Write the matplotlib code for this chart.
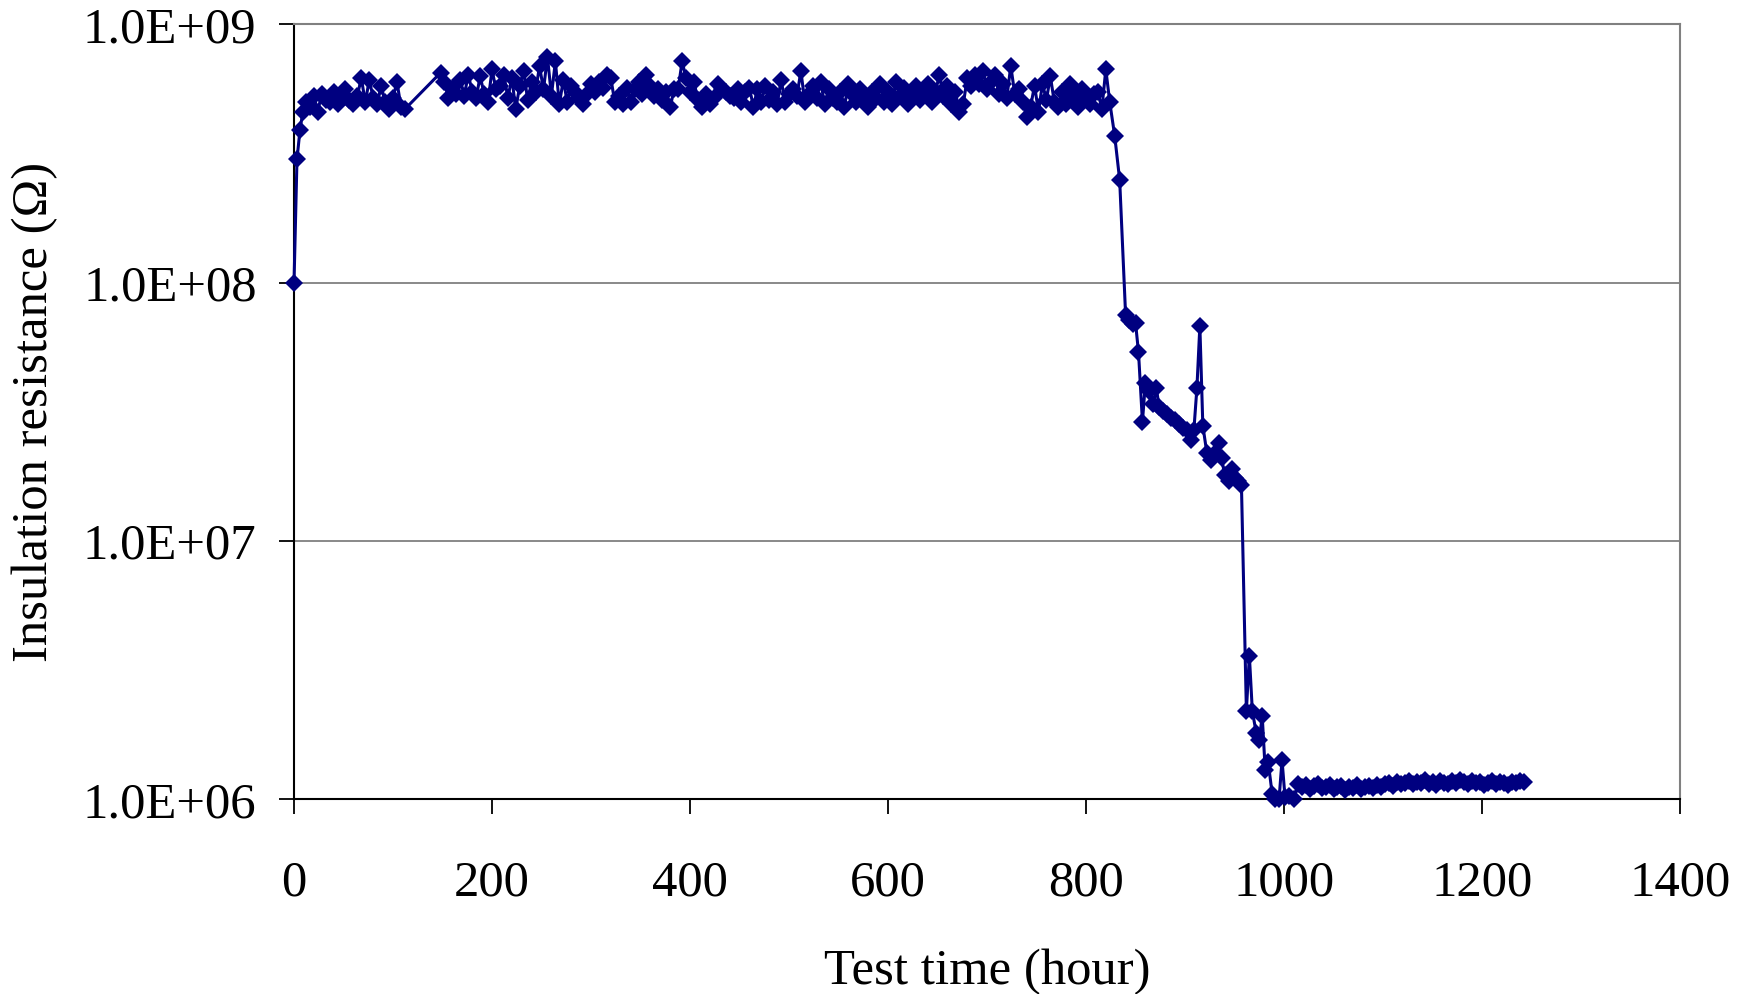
import matplotlib.pyplot as plt
from matplotlib.ticker import FixedLocator, FuncFormatter, NullLocator

plt.rcParams['font.family'] = ['Liberation Serif', 'DejaVu Serif']

# test time (hour)
hours_start = [0, 3, 6, 9, 12, 16, 20, 24, 28, 32, 36, 40, 44, 48, 52, 56, 60, 64,
               68, 72, 76, 80, 84, 88, 92, 96, 100, 104, 108, 112]
hours_plateau = [148, 152, 156, 160, 164, 168, 172, 176, 180, 184,
                 188, 192, 196, 200, 204, 208, 212, 216, 220, 224,
                 228, 232, 236, 240, 244, 248, 252, 256, 260, 264,
                 268, 272, 276, 280, 284, 288, 292, 296, 300, 304,
                 308, 312, 316, 320, 324, 328, 332, 336, 340, 344,
                 348, 352, 356, 360, 364, 368, 372, 376, 380, 384,
                 388, 392, 396, 400, 404, 408, 412, 416, 420, 424,
                 428, 432, 436, 440, 444, 448, 452, 456, 460, 464,
                 468, 472, 476, 480, 484, 488, 492, 496, 500, 504,
                 508, 512, 516, 520, 524, 528, 532, 536, 540, 544,
                 548, 552, 556, 560, 564, 568, 572, 576, 580, 584,
                 588, 592, 596, 600, 604, 608, 612, 616, 620, 624,
                 628, 632, 636, 640, 644, 648, 652, 656, 660, 664,
                 668, 672, 676, 680, 684, 688, 692, 696, 700, 704,
                 708, 712, 716, 720, 724, 728, 732, 736, 740, 744,
                 748, 752, 756, 760, 764, 768, 772, 776, 780, 784,
                 788, 792, 796, 800, 804, 808, 812, 816, 820, 824]
hours_drop = [829, 834, 840, 843, 847, 850, 853, 857, 860, 864, 868, 871, 874,
              878, 882, 886, 890, 894, 898, 902, 906, 909, 912, 915, 918, 922,
              926, 930, 934, 937, 940, 944, 947, 950, 954, 957, 962, 965, 968,
              972, 975, 978, 981, 984, 988, 991, 995, 998, 1001, 1005, 1010]
hours_tail = [1014, 1018, 1022, 1026, 1030, 1034, 1038, 1042, 1046, 1050,
              1054, 1058, 1062, 1066, 1070, 1074, 1078, 1082, 1086, 1090,
              1094, 1098, 1102, 1106, 1110, 1114, 1118, 1122, 1126, 1130,
              1134, 1138, 1142, 1146, 1150, 1154, 1158, 1162, 1166, 1170,
              1174, 1178, 1182, 1186, 1190, 1194, 1198, 1202, 1206, 1210,
              1214, 1218, 1222, 1226, 1230, 1234, 1238, 1242]

# insulation resistance (MOhm)
res_start = [100, 300, 390, 460, 500, 480, 530, 460, 540, 510, 500, 550, 490, 530,
             560, 510, 490, 530, 620, 500, 610, 520, 490, 580, 500, 470, 520, 600,
             480, 470]
res_plateau = [650, 600, 520, 560, 540, 610, 530, 640, 550, 520,
               630, 540, 500, 670, 560, 580, 640, 520, 620, 470,
               580, 660, 510, 600, 550, 690, 560, 750, 530, 720,
               490, 610, 500, 580, 550, 520, 490, 540, 590, 550,
               600, 570, 640, 620, 500, 530, 490, 570, 500, 560,
               600, 540, 640, 580, 530, 560, 510, 550, 480, 560,
               560, 720, 620, 550, 600, 510, 480, 540, 490, 520,
               590, 560, 550, 530, 520, 560, 500, 550, 570, 480,
               560, 500, 580, 510, 550, 490, 610, 500, 540, 560,
               530, 660, 500, 540, 580, 520, 600, 490, 560, 520,
               500, 550, 480, 590, 540, 500, 560, 520, 480, 550,
               520, 590, 500, 550, 490, 600, 530, 570, 490, 550,
               580, 510, 540, 590, 500, 550, 640, 530, 580, 490,
               550, 460, 490, 620, 580, 640, 590, 660, 560, 600,
               640, 540, 590, 520, 690, 540, 560, 500, 440, 480,
               580, 460, 590, 510, 630, 500, 480, 550, 490, 590,
               530, 480, 560, 520, 490, 540, 550, 470, 670, 500]
res_drop = [370, 250, 75, 72, 69, 70, 54, 29, 41, 38, 34, 39, 33,
            32, 31, 30, 29.5, 28.5, 27.5, 27, 24.5, 27, 39, 68, 28, 22,
            20.5, 22, 24, 21, 18, 17, 19, 17.5, 17, 16.5, 2.2, 3.6, 2.2,
            1.8, 1.7, 2.1, 1.3, 1.4, 1.05, 1.0, 1.0, 1.42, 1.02, 1.03, 1.0]
res_tail = [1.15, 1.12, 1.14, 1.10, 1.13, 1.15, 1.11, 1.12, 1.14, 1.10,
            1.12, 1.13, 1.09, 1.12, 1.11, 1.14, 1.10, 1.12, 1.13, 1.11,
            1.14, 1.12, 1.15, 1.16, 1.13, 1.17, 1.15, 1.16, 1.18, 1.15,
            1.17, 1.16, 1.19, 1.15, 1.17, 1.14, 1.18, 1.16, 1.15, 1.18,
            1.16, 1.19, 1.17, 1.15, 1.18, 1.16, 1.17, 1.14, 1.16, 1.18,
            1.15, 1.17, 1.16, 1.14, 1.17, 1.16, 1.18, 1.17]

hours = hours_start + hours_plateau + hours_drop + hours_tail
resistance = [r * 1e6 for r in res_start + res_plateau + res_drop + res_tail]

y_ticks = [1e6, 1e7, 1e8, 1e9]
x_ticks = [0, 200, 400, 600, 800, 1000, 1200, 1400]

fig = plt.figure(figsize=(17.48, 9.94), dpi=100)
ax = fig.add_axes([0.1682, 0.1959, 0.7929, 0.7795])

ax.plot(hours, resistance, color='#000080', linewidth=2.2, marker='D',
        markersize=9, markeredgewidth=0, zorder=3, clip_on=False)

ax.set_yscale('log')
ax.set_xlim(0, 1400)
ax.set_ylim(1e6, 1e9)
ax.yaxis.set_major_locator(FixedLocator(y_ticks))
ax.yaxis.set_minor_locator(NullLocator())
ax.yaxis.set_major_formatter(FuncFormatter(lambda v, pos: f"{v:.1E}"))
ax.set_xticks(x_ticks)

ax.grid(axis='y', color='#808080', linewidth=1.3)
ax.set_axisbelow(True)
for side in ('top', 'right'):
    ax.spines[side].set_color('#808080')
    ax.spines[side].set_linewidth(1.5)
for side in ('left', 'bottom'):
    ax.spines[side].set_color('black')
    ax.spines[side].set_linewidth(1.5)

ax.tick_params(axis='both', direction='out', length=11, width=1.3,
               labelsize=36.5, colors='black')
ax.tick_params(axis='y', pad=16)
ax.tick_params(axis='x', pad=33)

ax.set_xlabel("Test time (hour)", fontsize=36.5, labelpad=30)
ax.set_ylabel("Insulation resistance (\u03a9)", fontsize=36.5, labelpad=18)

fig.savefig('out.png', dpi=100)
